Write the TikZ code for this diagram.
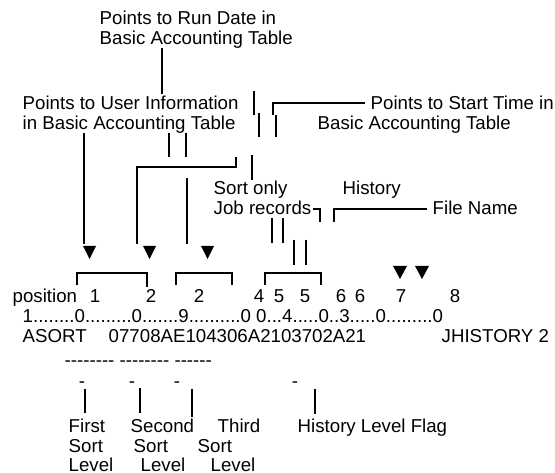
\documentclass[tikz,border=0pt]{standalone}
\usepackage{fontspec}
\setmainfont{Liberation Sans}
\newcommand\hy{\mbox{-}}
\tikzset{every picture/.style={line width=1.1pt}}
\tikzset{
  lbl/.style={anchor=base west, inner sep=0pt, font=\fontsize{14}{15}\selectfont},
  num/.style={anchor=base, inner sep=0pt, font=\fontsize{14}{15}\selectfont},
  tip/.style={fill=black, draw=none}
}
\begin{document}
\begin{tikzpicture}[x=0.75pt,y=0.75pt,yscale=-1,xscale=1]
\useasboundingbox (0,0) rectangle (555,473);

% Text Node
\node [lbl] (rundate) at (99,25) {Points to Run Date in};
\node [lbl] (rundatetb) at (99,45) {Basic Accounting Table};
% Text Node
\node [lbl] (userinfo) at (22,110) {Points to User Information};
\node [lbl] (userinfotb) at (22,130) {in Basic Accounting Table};
% Text Node
\node [lbl] (starttime) at (370,110) {Points to Start Time in};
\node [lbl] (starttimetb) at (317,130) {Basic Accounting Table};
% Text Node
\node [lbl] (sortonly) at (213,195) {Sort only};
\node [lbl] (jobrec) at (213,215) {Job records};
\node [lbl] (history) at (342,195) {History};
\node [lbl] (filename) at (432,215) {File Name};

%Straight Lines (upper connectors)
\draw (162,48) -- (162,94);
\draw (254,91) -- (254,115);
\draw (259,113) -- (259,137);
\draw (273,115) -- (273,103) -- (365,103);
\draw (276,115) -- (276,137);
\draw (84,133) -- (84,244);
\draw (169,133) -- (169,157);
\draw (186,133) -- (186,157);
\draw (137,244) -- (137,167) -- (236,167) -- (236,157);
\draw (252,155) -- (252,180);
\draw (187,178) -- (187,244);
\draw (313,209) -- (320,209) -- (320,222);
\draw (334,222) -- (334,209) -- (427,209);
\draw (272,218) -- (272,243);
\draw (283,218) -- (283,243);
\draw (294,240) -- (294,265);
\draw (306,240) -- (306,265);

% Arrow heads
\fill [tip] (83,246) -- (96,246) -- (89.5,259) -- cycle;
\fill [tip] (143,246) -- (156,246) -- (149.5,259) -- cycle;
\fill [tip] (201,246) -- (214,246) -- (207.5,259) -- cycle;
\fill [tip] (393,266) -- (407,266) -- (400,279) -- cycle;
\fill [tip] (415,266) -- (429,266) -- (422,279) -- cycle;

%Straight Lines (brackets)
\draw (77,285) -- (77,273) -- (147,273) -- (147,287);
\draw (176,285) -- (176,273) -- (232,273) -- (232,285);
\draw (265,285) -- (265,273) -- (321,273) -- (321,285);

% Text Node (record layout)
\node [lbl] (position) at (12,302) {position};
\node [num] (p1) at (95,302) {1};
\node [num] (p2) at (151,302) {2};
\node [num] (p3) at (199,302) {2};
\node [num] (p4) at (259,302) {4};
\node [num] (p5) at (279,302) {5};
\node [num] (p6) at (305,302) {5};
\node [num] (p7) at (341,302) {6};
\node [num] (p8) at (360,302) {6};
\node [num] (p9) at (401,302) {7};
\node [num] (p10) at (455,302) {8};
\node [lbl] (ruler) at (22,322) {1........0.........0.......9..........0 0...4.....0..3.....0.........0};
\node [lbl] (asort) at (22,342) {ASORT};
\node [lbl] (keys) at (108,342) {07708AE104306A2103702A21};
\node [lbl] (jhist) at (441,342) {JHISTORY 2};
\node [lbl] (dashes) at (64,366) {\hy\hy\hy\hy\hy\hy\hy\hy{} \hy\hy\hy\hy\hy\hy\hy\hy{} \hy\hy\hy\hy\hy\hy};
\node [num] (d1) at (82,387) {-};
\node [num] (d2) at (132,387) {-};
\node [num] (d3) at (177,387) {-};
\node [num] (d4) at (295,387) {-};

%Straight Lines (lower connectors)
\draw (85,389) -- (85,413);
\draw (140,388) -- (140,413);
\draw (192,389) -- (192,417);
\draw (315,389) -- (315,414);

% Text Node
\node [lbl] (first) at (68,432) {First};
\node [lbl] (second) at (130,432) {Second};
\node [lbl] (third) at (217,432) {Third};
\node [lbl] (histflag) at (297,432) {History Level Flag};
\node [lbl] (sort1) at (68,452) {Sort};
\node [lbl] (sort2) at (133,452) {Sort};
\node [lbl] (sort3) at (197,452) {Sort};
\node [lbl] (level1) at (68,471) {Level};
\node [lbl] (level2) at (140,471) {Level};
\node [lbl] (level3) at (210,471) {Level};
\end{tikzpicture}
\end{document}
